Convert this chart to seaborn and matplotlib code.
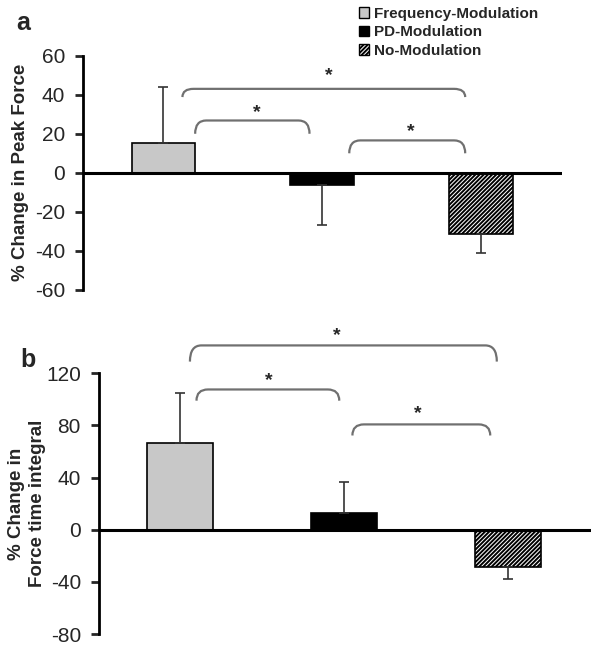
import numpy as np
import pandas as pd
import matplotlib
matplotlib.use("Agg")
import matplotlib.pyplot as plt
from matplotlib.path import Path
from matplotlib.patches import PathPatch, Patch
import seaborn as sns

groups = ["Frequency-Modulation", "PD-Modulation", "No-Modulation"]
peak_force = [15.3, -6.4, -31.3]
peak_force_err = [28.6, 20.1, 9.6]
fti = [66.7, 12.5, -28.7]
fti_err = [38.4, 24.0, 8.9]

sns.set_style("white")
plt.rcParams["font.family"] = ["Liberation Sans", "DejaVu Sans"]
plt.rcParams["hatch.linewidth"] = 1.4

colors = ["#c8c8c8", "#000000", "#ffffff"]
hatches = [None, None, "////////"]

fig = plt.figure(figsize=(6.0, 6.48), dpi=100)
ax_a = fig.add_axes([0.1383, 0.5525, 0.7983, 0.3616])
ax_b = fig.add_axes([0.165, 0.0216, 0.8195, 0.4023])


def bracket(ax, x1, x2, ytop, yend, dx=0.07):
    verts = [(x1, yend), (x1, ytop), (x1 + dx, ytop),
             (x2 - dx, ytop), (x2, ytop), (x2, yend)]
    codes = [Path.MOVETO, Path.CURVE3, Path.CURVE3,
             Path.LINETO, Path.CURVE3, Path.CURVE3]
    ax.add_patch(PathPatch(Path(verts, codes), fill=False, edgecolor="#707070",
                           lw=1.6, clip_on=False))


def panel(ax, vals, errs, ylim, ticks, xlim):
    df = pd.DataFrame({"group": groups, "value": vals})
    sns.barplot(data=df, x="group", y="value", hue="group", palette=colors,
                width=0.4, ax=ax, legend=False, errorbar=None, saturation=1)
    for p, h in zip(ax.patches, hatches):
        p.set_edgecolor("black")
        p.set_linewidth(1.2)
        if h:
            p.set_hatch(h)
    for i, (v, e) in enumerate(zip(vals, errs)):
        yerr = [[0], [e]] if v > 0 else [[e], [0]]
        ax.errorbar(i, v, yerr=yerr, fmt="none", ecolor="#333333",
                    elinewidth=1.2, capsize=3.5, capthick=1.2, zorder=1)
    ax.axhline(0, color="black", lw=2.2, zorder=3)
    ax.set_ylim(*ylim)
    ax.set_xlim(*xlim)
    ax.set_yticks(ticks)
    ax.set_yticklabels([str(t) for t in ticks], fontsize=15)
    ax.set_xticks([])
    ax.set_xlabel("")
    for s in ["top", "right", "bottom"]:
        ax.spines[s].set_visible(False)
    ax.spines["left"].set_linewidth(2)
    ax.spines["left"].set_color("black")
    ax.tick_params(axis="y", direction="out", length=6, width=2, left=True, pad=7)


panel(ax_a, peak_force, peak_force_err, (-60, 60), [-60, -40, -20, 0, 20, 40, 60], (-0.506, 2.509))
panel(ax_b, fti, fti_err, (-80, 120), [-80, -40, 0, 40, 80, 120], (-0.494, 2.502))

ax_a.set_ylabel("% Change in Peak Force", fontsize=13.5, fontweight="bold", labelpad=4)
ax_b.set_ylabel("% Change in\nForce time integral", fontsize=13.5, fontweight="bold",
                labelpad=0, linespacing=1.3)

# significance brackets
for x1, x2, yt, ye, sx, sy in [(0.12, 1.90, 43, 38.8, 1.04, 50),
                               (0.20, 0.92, 26.8, 20, 0.59, 31),
                               (1.17, 1.90, 16.6, 10, 1.56, 21.3)]:
    bracket(ax_a, x1, x2, yt, ye)
    ax_a.text(sx, sy, "*", ha="center", va="center", fontsize=14, fontweight="bold")

for x1, x2, yt, ye, sx, sy in [(0.06, 1.93, 141.4, 129, 0.955, 149),
                               (0.10, 0.97, 107.6, 99, 0.54, 114.5),
                               (1.05, 1.89, 80.8, 72.3, 1.45, 89)]:
    bracket(ax_b, x1, x2, yt, ye)
    ax_b.text(sx, sy, "*", ha="center", va="center", fontsize=14, fontweight="bold",
              clip_on=False)

fig.text(23 / 600, 1 - 23 / 648, "a", fontsize=18, fontweight="bold", ha="center", va="center")
fig.text(28 / 600, 1 - 360 / 648, "b", fontsize=18, fontweight="bold", ha="center", va="center")

handles = [Patch(facecolor=c, edgecolor="black", hatch=h, lw=1) for c, h in zip(colors, hatches)]
leg = fig.legend(handles, groups, loc="upper left", bbox_to_anchor=(348 / 600, 1 + 4 / 648),
                 frameon=False, prop={"weight": "bold", "size": 11},
                 handlelength=0.7, handleheight=0.7, handletextpad=0.3,
                 labelspacing=0.3, borderpad=0.2)

fig.savefig("out.png", dpi=100)
